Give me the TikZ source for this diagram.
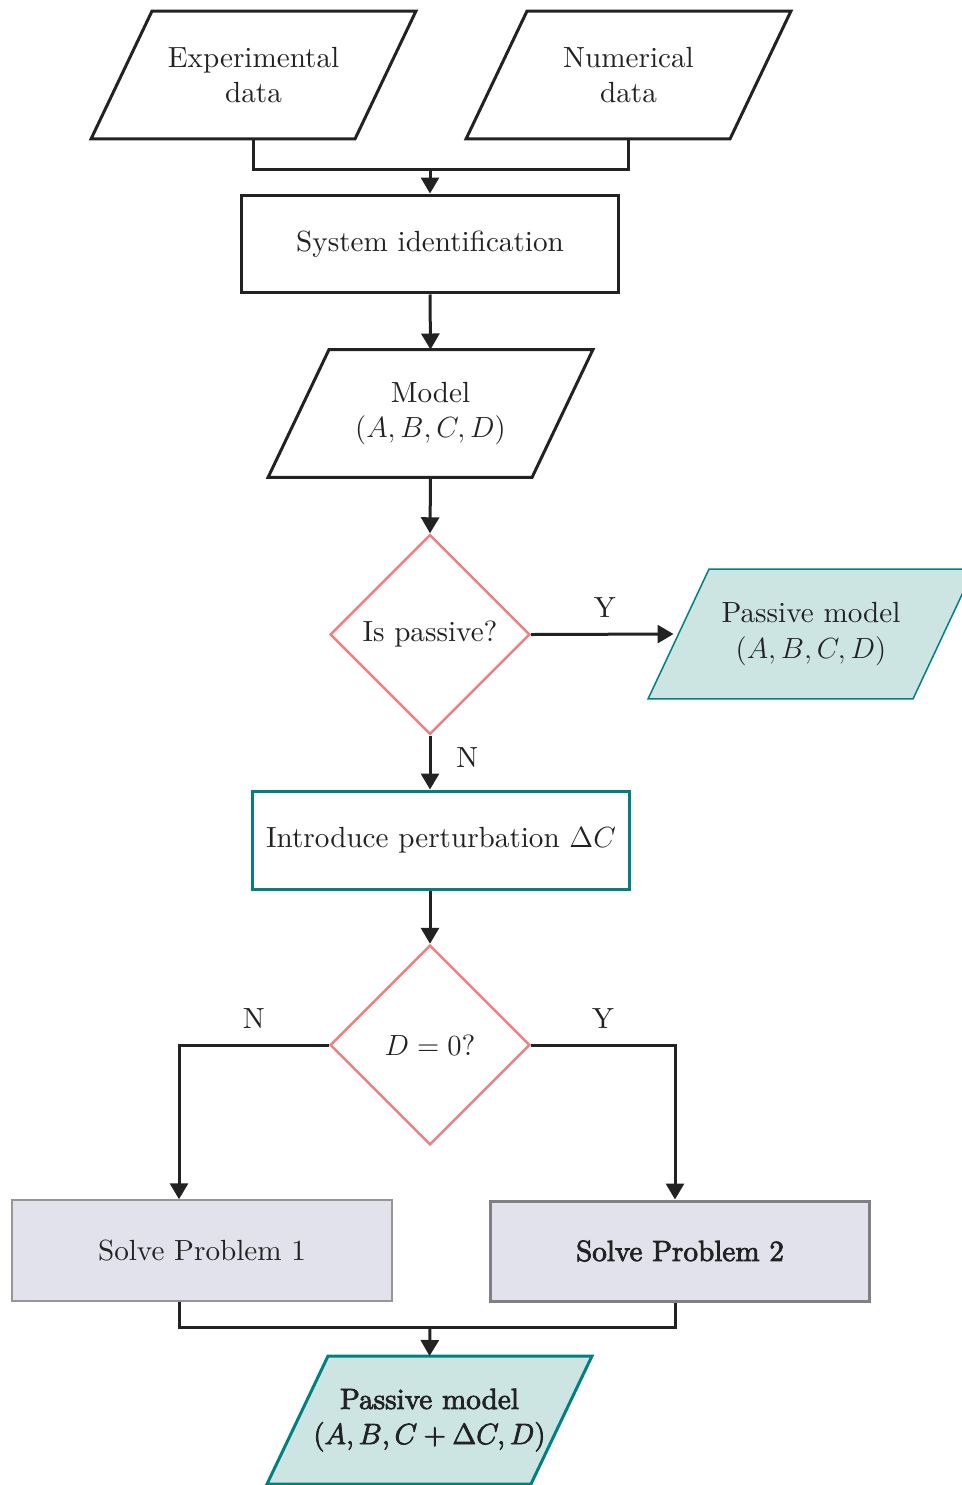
\RequirePackage{fix-cm}
\documentclass[tikz,border=0pt]{standalone}
\usepackage{fontspec}
\setmainfont{lmroman10-regular}[Extension=.otf, ItalicFont=lmroman10-italic, BoldFont=lmroman10-bold]
\usetikzlibrary{shapes.geometric, arrows.meta, calc, backgrounds}
\definecolor{ink}{RGB}{34,34,34}
\definecolor{coral}{RGB}{240,128,128}
\definecolor{tealb}{RGB}{0,128,128}
\definecolor{tealfill}{RGB}{204,229,227}
\definecolor{grayfill}{RGB}{225,226,235}
\definecolor{grayedge}{RGB}{150,150,150}
\definecolor{grayedgeb}{RGB}{128,128,128}
\newcommand\heavytxt[1]{\special{pdf:literal direct 2 Tr 0.45 w}#1\special{pdf:literal direct 0 Tr}}
% parallelogram outline around a rectangular node: #1 node name, #2 path style
\newcommand\parashape[2]{%
  \path[#2] ([xshift=-0.61cm]#1.south west) -- ([xshift=-0.61cm]#1.south east)
    -- ([xshift=0.61cm]#1.north east) -- ([xshift=0.61cm]#1.north west) -- cycle;}
\tikzset{
  base/.style={font=\fontsize{16.6}{20}\selectfont, text=ink, align=center, inner sep=0pt},
  para/.style={base, rectangle, outer sep=0pt, minimum width=5.28cm, minimum height=2.56cm},
  dataline/.style={draw=ink, line width=0.06cm, line join=miter},
  passline/.style={draw=tealb, fill=tealfill, line width=0.03cm},
  passlineb/.style={draw=tealb, fill=tealfill, line width=0.06cm},
  procbox/.style={base, rectangle, draw=ink, line width=0.06cm, minimum width=7.56cm, minimum height=1.96cm},
  decision/.style={base, diamond, aspect=1, draw=coral, line width=0.05cm, minimum width=4cm, minimum height=4cm},
  conn/.style={draw=ink, line width=0.06cm},
  arr/.style={conn, -{Triangle[length=0.32cm,width=0.36cm]}},
  lbl/.style={base, inner sep=0pt}
}
\begin{document}
\begin{tikzpicture}[x=0.02cm, y=-0.02cm]
\useasboundingbox (0,0) rectangle (962,1485);

\node[para] (exp) at (253.5,75) {Experimental\\data};
\node[para] (num) at (628.5,75) {Numerical\\data};
\node[procbox] (sysid) at (430,244) {System identification};
\node[para] (model) at (430.5,413.5) {Model\\$(A,B,C,D)$};
\node[decision] (isp) at (430,634.5) {Is passive?};
\node[para, minimum width=5.3cm, minimum height=2.6cm] (pm1) at (811,634) {Passive model\\$(A,B,C,D)$};
\node[procbox, draw=tealb] (pert) at (441,840) {Introduce perturbation $\Delta C$};
\node[decision] (dz) at (430,1045) {$D=0$?};
\node[procbox, draw=grayedge, fill=grayfill, line width=0.03cm, minimum width=7.6cm, minimum height=2.02cm] (sp1) at (202,1250.5) {Solve Problem 1};
\node[procbox, draw=grayedgeb, fill=grayfill, minimum width=7.6cm, minimum height=2cm] (sp2) at (680,1251) {\heavytxt{Solve Problem 2}};
\node[para] (pm2) at (429.5,1420) {\heavytxt{Passive model}\\\heavytxt{$(A,B,C+\Delta C,D)$}};

\begin{scope}[on background layer]
  \parashape{exp}{dataline}
  \parashape{num}{dataline}
  \parashape{model}{dataline}
  \parashape{pm1}{passline}
  \parashape{pm2}{passlineb}
\end{scope}

\coordinate (j1) at (430,169);
\draw[conn] (exp.south) |- (j1);
\draw[conn] (num.south) |- (j1);
\draw[arr] (j1) -- (sysid.north);
\draw[arr] (sysid.south) -- (model.north);
\draw[arr] (model.south) -- (isp.north);
\draw[arr, shorten >=0.1cm] (isp.east) -- node[lbl, above=0.3cm] {Y} (pm1.west);
\draw[arr] (isp.south) -- node[lbl, right=0.5cm, yshift=0.1cm] {N} (isp.south |- pert.north);
\draw[arr] (isp.south |- pert.south) -- (dz.north);
\draw[arr] (dz.west) -| node[lbl, pos=0.25, above=0.3cm] {N} ([xshift=-0.46cm]sp1.north);
\draw[arr] (dz.east) -| node[lbl, pos=0.25, above=0.3cm] {Y} ([xshift=-0.1cm]sp2.north);
\coordinate (j2) at (430,1327);
\draw[conn] ([xshift=-0.46cm]sp1.south) |- (j2);
\draw[conn] ([xshift=-0.1cm]sp2.south) |- (j2);
\draw[arr] (j2) -- (pm2.north);
\end{tikzpicture}
\end{document}
